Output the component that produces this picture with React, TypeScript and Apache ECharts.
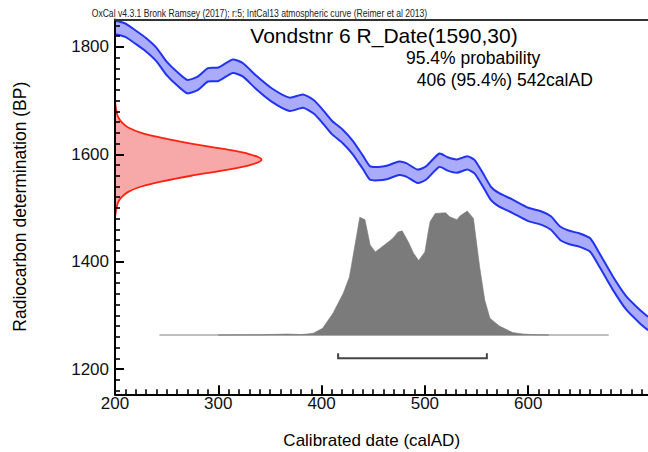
import React, { useEffect, useRef } from 'react';
import * as echarts from 'echarts';

const FONT = '"Liberation Sans", Arial, Helvetica, sans-serif';

const captionText = 'OxCal v4.3.1 Bronk Ramsey (2017); r:5; IntCal13 atmospheric curve (Reimer et al 2013)';
const titleText = 'Vondstnr 6 R_Date(1590,30)';
const probText = '95.4% probability';
const rangeText = '406 (95.4%) 542calAD';
const xTitle = 'Calibrated date (calAD)';
const yTitle = 'Radiocarbon determination (BP)';

// axis extents and ticks
const xMin = 200, xMax = 716;
const yMin = 1153, yMax = 1851;
const xMajor = [200, 300, 400, 500, 600];
const yMajor = [1200, 1400, 1600, 1800];
const xAllTicks: number[] = [];
for (let v = 200; v <= 710; v += 10) xAllTicks.push(v);
const yAllTicks: number[] = [];
for (let v = 1160; v <= 1840; v += 20) yAllTicks.push(v);

// calibration curve (IntCal13), mid value and 1-sigma half width in BP
const curveYear = [200, 210, 220, 230, 240, 250, 260, 270, 280, 290, 300, 314, 324, 336, 352, 369, 382, 392, 400, 410, 420, 430, 440, 447, 455, 463, 475, 482, 493, 501, 514, 522, 531, 541, 548, 556, 564, 572, 585, 600, 613, 622, 631, 640, 650, 660, 669, 682, 695, 708, 716];
const curveBP = [1836, 1831, 1818, 1804, 1786, 1760, 1741, 1726, 1732, 1748, 1749, 1764, 1757, 1735, 1710, 1693, 1699, 1689, 1673, 1650, 1634, 1613, 1585, 1565, 1564, 1566, 1574, 1571, 1559, 1565, 1589, 1582, 1578, 1584, 1577, 1553, 1527, 1515, 1503, 1488, 1481, 1472, 1453, 1445, 1440, 1431, 1403, 1360, 1323, 1298, 1285];
const curveHalfWidth = 12.5;

// radiocarbon measurement 1590 +/- 30 BP (relative density)
const rdBP = [1480, 1490, 1500, 1510, 1520, 1530, 1540, 1550, 1560, 1570, 1580, 1590, 1600, 1610, 1620, 1630, 1640, 1650, 1660, 1670, 1680, 1690, 1700];
const rdProb = [0, 0.004, 0.01, 0.02, 0.045, 0.09, 0.18, 0.33, 0.52, 0.74, 0.92, 1.0, 0.92, 0.74, 0.52, 0.33, 0.18, 0.09, 0.045, 0.02, 0.01, 0.004, 0];

// calibrated distribution (relative density)
const calYear = [300, 340, 360, 366, 372, 380, 386, 392, 401, 411, 421, 427, 432, 437, 442, 447, 452, 463, 469, 474, 478, 484, 489, 494, 500, 503, 505, 510, 520, 524, 531, 534, 541, 547, 553, 558, 563, 572, 585, 595, 605, 620];
const calProb = [0, 0.002, 0.006, 0.008, 0.006, 0.004, 0.008, 0.015, 0.054, 0.175, 0.336, 0.47, 0.71, 0.95, 0.93, 0.726, 0.67, 0.74, 0.78, 0.83, 0.84, 0.75, 0.66, 0.6, 0.67, 0.82, 0.914, 0.98, 0.986, 0.954, 0.93, 0.96, 1.0, 0.94, 0.55, 0.28, 0.135, 0.073, 0.02, 0.008, 0.003, 0];
const calBaseline = [243, 678];

// 95.4% range bracket as drawn
const rangeBar = [416, 560];

export default function App() {
  const ref = useRef<HTMLDivElement>(null);
  useEffect(() => {
    if (!ref.current) return;
    const chart = echarts.init(ref.current, null, { renderer: 'svg' });
    const gridBox = { left: 115, top: 19.5, right: 0, bottom: 57.7 };
    const gridW = 648 - 115;
    const gridH = 452 - 19.5 - 57.7;

    const bandSeries = {
      type: 'custom',
      xAxisIndex: 0,
      yAxisIndex: 0,
      silent: true,
      z: 3,
      data: [0],
      renderItem: (_p: any, api: any) => {
        const up = curveYear.map((x, i) => api.coord([x, curveBP[i] + curveHalfWidth]));
        const lo = curveYear.map((x, i) => api.coord([x, curveBP[i] - curveHalfWidth]));
        return {
          type: 'group',
          children: [
            { type: 'polygon', shape: { points: up.concat(lo.slice().reverse()), smooth: 0.2 }, style: { fill: '#aaabfb', stroke: 'none' } },
            { type: 'polyline', shape: { points: up, smooth: 0.2 }, style: { fill: 'none', stroke: '#2233f0', lineWidth: 2 } },
            { type: 'polyline', shape: { points: lo, smooth: 0.2 }, style: { fill: 'none', stroke: '#2233f0', lineWidth: 2 } },
          ],
        };
      },
    };

    const redSeries = {
      type: 'custom',
      xAxisIndex: 2,
      yAxisIndex: 0,
      silent: true,
      z: 3,
      data: [0],
      renderItem: (_p: any, api: any) => {
        const pts = rdBP.map((b, i) => api.coord([rdProb[i], b]));
        return {
          type: 'group',
          children: [
            { type: 'polygon', shape: { points: pts, smooth: 0.3 }, style: { fill: '#f7a9a9', stroke: 'none' } },
            { type: 'polyline', shape: { points: pts, smooth: 0.3 }, style: { fill: 'none', stroke: '#ff2211', lineWidth: 1.8 } },
          ],
        };
      },
    };

    const graySeries = {
      type: 'custom',
      xAxisIndex: 0,
      yAxisIndex: 2,
      silent: true,
      z: 3,
      data: [0],
      renderItem: (_p: any, api: any) => {
        const pts = calYear.map((x, i) => api.coord([x, calProb[i]]));
        const b0 = api.coord([calBaseline[0], 0]);
        const b1 = api.coord([calBaseline[1], 0]);
        const r0a = api.coord([rangeBar[0], -0.147]);
        const r0b = api.coord([rangeBar[0], -0.188]);
        const r1b = api.coord([rangeBar[1], -0.188]);
        const r1a = api.coord([rangeBar[1], -0.147]);
        return {
          type: 'group',
          children: [
            { type: 'line', shape: { x1: b0[0], y1: b0[1], x2: b1[0], y2: b1[1] }, style: { stroke: '#a8a8a8', lineWidth: 1.5 } },
            { type: 'polygon', shape: { points: pts }, style: { fill: '#7b7b7b', stroke: '#7b7b7b', lineWidth: 0.6 } },
            { type: 'polyline', shape: { points: [r0a, r0b, r1b, r1a] }, style: { fill: 'none', stroke: '#444', lineWidth: 2 } },
          ],
        };
      },
    };

    const option: any = {
      animation: false,
      textStyle: { fontFamily: FONT },
      grid: [{ ...gridBox }],
      xAxis: [
        {
          type: 'value', gridIndex: 0, min: xMin, max: xMax, position: 'bottom', z: 10,
          axisLine: { show: true, onZero: false, lineStyle: { color: '#000', width: 2 } },
          axisTick: { show: true, inside: true, length: 5, customValues: xAllTicks, lineStyle: { color: '#000', width: 1.6 } },
          axisLabel: { show: true, customValues: xMajor, margin: 1, fontSize: 17, color: '#111', fontFamily: FONT, formatter: (v: number) => String(v) },
          splitLine: { show: false },
        },
        {
          type: 'value', gridIndex: 0, min: xMin, max: xMax, position: 'top', z: 10,
          axisLine: { show: true, onZero: false, lineStyle: { color: '#333', width: 2 } },
          axisTick: { show: false }, axisLabel: { show: false }, splitLine: { show: false },
        },
        {
          type: 'value', gridIndex: 0, min: 0, max: 3.638, show: false,
          axisLine: { show: false, onZero: false }, splitLine: { show: false },
        },
        {
          type: 'value', gridIndex: 0, min: xMin, max: xMax, position: 'top', offset: -gridH, z: 10,
          axisLine: { show: false, onZero: false },
          axisTick: { show: true, inside: false, length: 9, customValues: xMajor, lineStyle: { color: '#000', width: 2 } },
          axisLabel: { show: false }, splitLine: { show: false },
        },
      ],
      yAxis: [
        {
          type: 'value', gridIndex: 0, min: yMin, max: yMax, position: 'left', z: 10,
          axisLine: { show: true, onZero: false, lineStyle: { color: '#000', width: 2 } },
          axisTick: { show: true, inside: true, length: 5, customValues: yAllTicks, lineStyle: { color: '#000', width: 1.6 } },
          axisLabel: { show: true, customValues: yMajor, margin: 6, fontSize: 17, color: '#111', fontFamily: FONT, formatter: (v: number) => String(v) },
          splitLine: { show: false },
        },
        {
          type: 'value', gridIndex: 0, min: yMin, max: yMax, position: 'right', offset: -gridW, z: 10,
          axisLine: { show: false, onZero: false },
          axisTick: { show: true, inside: false, length: 9, customValues: yMajor, lineStyle: { color: '#000', width: 2 } },
          axisLabel: { show: false }, splitLine: { show: false },
        },
        {
          type: 'value', gridIndex: 0, min: -0.478, max: 2.544, show: false,
          axisLine: { show: false, onZero: false }, splitLine: { show: false },
        },
      ],
      series: [
        graySeries,
        bandSeries,
        redSeries,
        { type: 'line', xAxisIndex: 1, yAxisIndex: 0, silent: true, symbol: 'none', data: [] },
        { type: 'line', xAxisIndex: 3, yAxisIndex: 1, silent: true, symbol: 'none', data: [] },
      ],
      graphic: [
        { type: 'text', x: 91.7, y: 13.8, scaleX: 0.86, style: { text: captionText, fontSize: 10, fontFamily: FONT, fill: '#222', align: 'left', verticalAlign: 'middle' } },
        { type: 'text', x: 384, y: 35, style: { text: titleText, fontSize: 21, fontFamily: FONT, fill: '#000', align: 'center', verticalAlign: 'middle' } },
        { type: 'text', x: 406, y: 57.5, style: { text: probText, fontSize: 17.5, fontFamily: FONT, fill: '#000', align: 'left', verticalAlign: 'middle' } },
        { type: 'text', x: 416.7, y: 80, style: { text: rangeText, fontSize: 17.5, fontFamily: FONT, fill: '#000', align: 'left', verticalAlign: 'middle' } },
        { type: 'text', x: 371.7, y: 440, style: { text: xTitle, fontSize: 17, fontFamily: FONT, fill: '#000', align: 'center', verticalAlign: 'middle' } },
        { type: 'text', x: 20, y: 206.7, rotation: Math.PI / 2, style: { text: yTitle, fontSize: 17.5, fontFamily: FONT, fill: '#000', align: 'center', verticalAlign: 'middle' } },
      ],
    };
    chart.setOption(option);
    return () => chart.dispose();
  }, []);
  return <div ref={ref} style={{ position: 'fixed', left: 0, top: 0, width: 648, height: 452, background: '#fff' }} />;
}
